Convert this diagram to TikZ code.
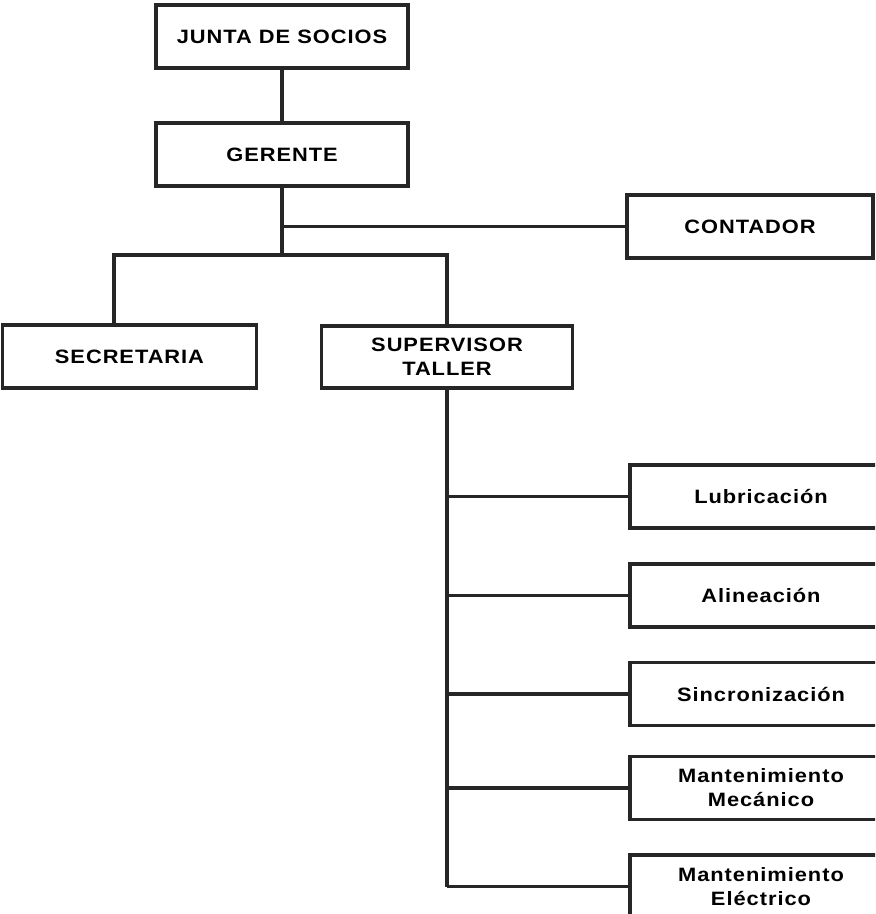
\documentclass[tikz,border=0pt]{standalone}
\usepackage{fontspec}
\setmainfont{Liberation Sans}[FakeStretch=1.13,LetterSpace=5]
\begin{document}
\begin{tikzpicture}[x=0.75pt,y=-0.75pt,
  box/.style={draw=black!85, line width=2.4pt, inner sep=0pt, align=center,
    minimum height=47.25pt, font=\bfseries\fontsize{14.5}{18}\selectfont},
  conn/.style={draw=black!85, line width=2.4pt}]
\useasboundingbox (0,0) rectangle (875,914);
\clip (0,0) rectangle (875,914);
\node[box, minimum width=189pt] (junta) at (282,36.5) {JUNTA DE SOCIOS};
\node[box, minimum width=189pt] (gerente) at (282,154.5) {GERENTE};
\node[box, minimum width=184.5pt] (contador) at (750,226.5) {CONTADOR};
\node[box, minimum width=190pt] (secretaria) at (129.5,356.5) {SECRETARIA};
\node[box, minimum width=188pt, minimum height=46.5pt] (supervisor) at (447,357) {SUPERVISOR\\TALLER};
\node[box, minimum width=196.5pt] (lub) at (761,496.5) {Lubricación};
\node[box, minimum width=196.5pt] (alin) at (761,595.5) {Alineación};
\node[box, minimum width=196.5pt] (sinc) at (761,694) {Sincronización};
\node[box, minimum width=196.5pt] (mmec) at (761,788) {Mantenimiento\\Mecánico};
\node[box, minimum width=196.5pt] (melec) at (761,886.5) {Mantenimiento\\Eléctrico};
\coordinate (b) at (282,255);
\draw[conn] (junta) -- (gerente);
\draw[conn] (gerente.south) -- (b);
\draw[conn] (gerente.south |- contador.west) -- (contador.west);
\draw[conn] ([xshift=-11.6pt]secretaria.north) |- (b) -| (supervisor.north);
\draw[conn] (supervisor.south) -- (supervisor.south |- melec.west);
\foreach \n in {lub,alin,sinc,mmec,melec}
  \draw[conn] (supervisor.south |- \n.west) -- (\n.west);
\end{tikzpicture}
\end{document}
